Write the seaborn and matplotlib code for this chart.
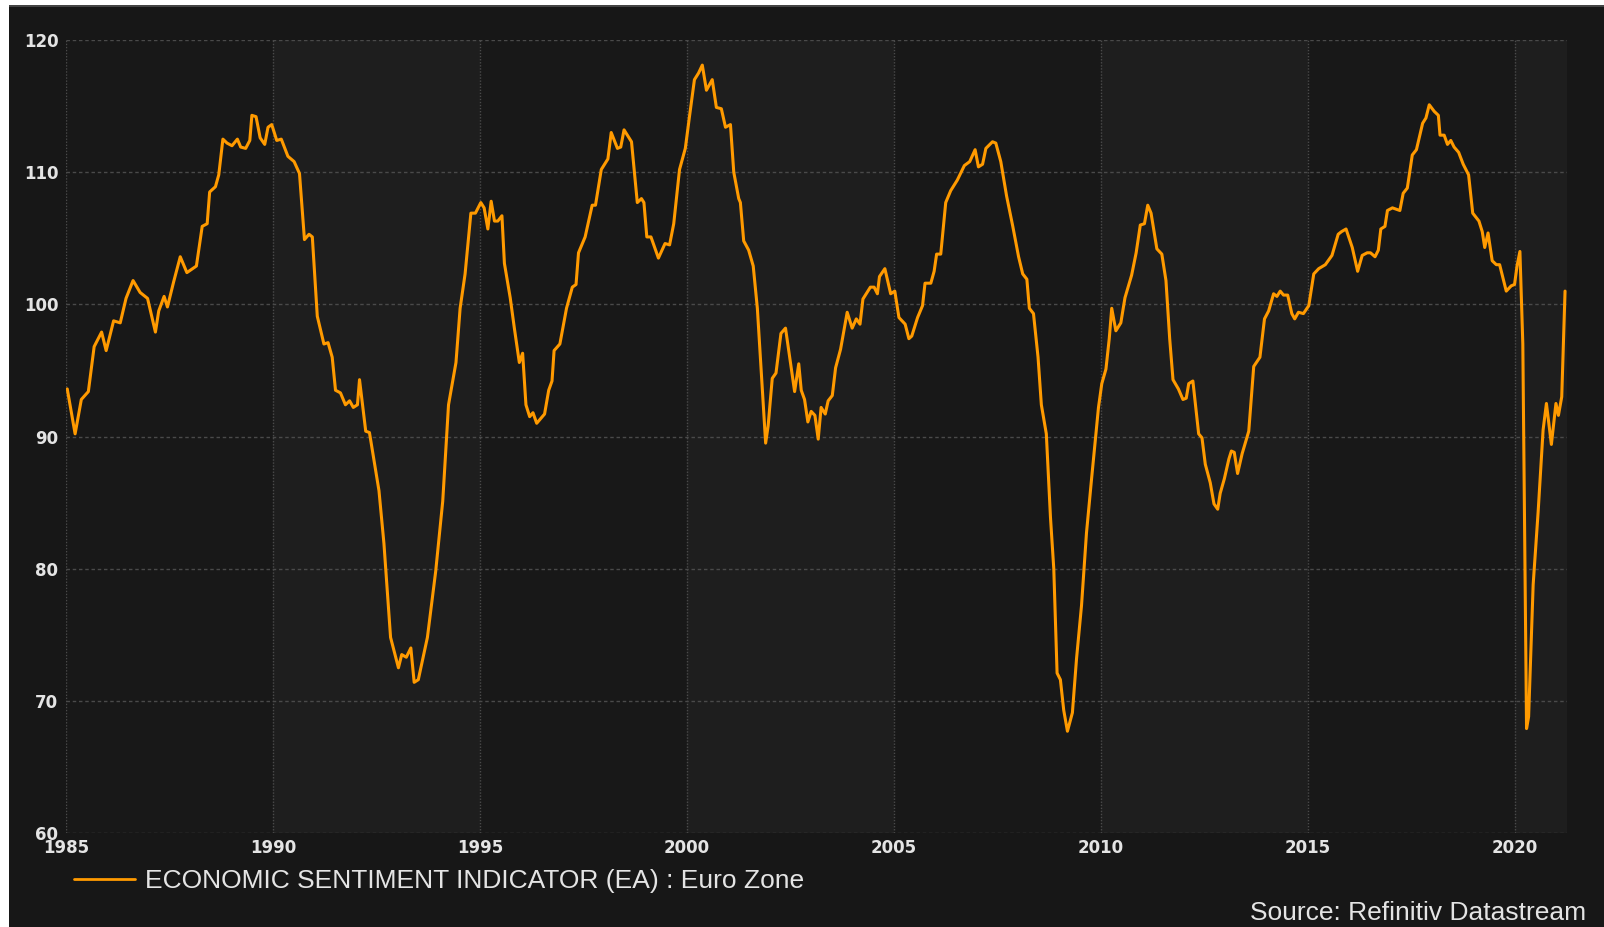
import matplotlib
matplotlib.use("Agg")
import matplotlib.pyplot as plt
from matplotlib.patches import Rectangle
import seaborn as sns
import pandas as pd

# values (decimal year, index level)
years = [
    1985.03, 1985.22, 1985.37, 1985.54, 1985.68, 1985.86, 1985.97, 1986.15, 1986.31, 1986.45,
    1986.62, 1986.79, 1986.97, 1987.16, 1987.24, 1987.37, 1987.45, 1987.60, 1987.76, 1987.92,
    1988.15, 1988.29, 1988.41, 1988.47, 1988.61, 1988.69, 1988.79, 1988.89, 1989.01, 1989.14,
    1989.22, 1989.34, 1989.44, 1989.49, 1989.59, 1989.69, 1989.80, 1989.88, 1989.97, 1990.09,
    1990.20, 1990.36, 1990.51, 1990.64, 1990.76, 1990.87, 1990.95, 1991.07, 1991.23, 1991.33,
    1991.43, 1991.51, 1991.63, 1991.75, 1991.85, 1991.94, 1992.04, 1992.09, 1992.24, 1992.33,
    1992.56, 1992.68, 1992.84, 1993.03, 1993.11, 1993.22, 1993.33, 1993.41, 1993.51, 1993.73,
    1993.93, 1994.10, 1994.24, 1994.42, 1994.52, 1994.64, 1994.78, 1994.89, 1995.02, 1995.10,
    1995.19, 1995.27, 1995.35, 1995.43, 1995.53, 1995.59, 1995.73, 1995.83, 1995.95, 1996.03,
    1996.11, 1996.20, 1996.28, 1996.37, 1996.56, 1996.66, 1996.74, 1996.79, 1996.93, 1997.09,
    1997.23, 1997.32, 1997.38, 1997.54, 1997.71, 1997.79, 1997.93, 1998.09, 1998.17, 1998.32,
    1998.40, 1998.48, 1998.66, 1998.80, 1998.90, 1998.96, 1999.03, 1999.13, 1999.31, 1999.47,
    1999.58, 1999.68, 1999.82, 1999.96, 2000.06, 2000.18, 2000.28, 2000.37, 2000.47, 2000.61,
    2000.71, 2000.83, 2000.93, 2001.05, 2001.13, 2001.25, 2001.29, 2001.37, 2001.49, 2001.60,
    2001.70, 2001.80, 2001.90, 2001.96, 2002.06, 2002.15, 2002.27, 2002.38, 2002.50, 2002.60,
    2002.70, 2002.76, 2002.84, 2002.92, 2003.00, 2003.09, 2003.17, 2003.24, 2003.34, 2003.41,
    2003.51, 2003.59, 2003.71, 2003.87, 2003.99, 2004.09, 2004.18, 2004.25, 2004.43, 2004.52,
    2004.60, 2004.65, 2004.78, 2004.92, 2005.02, 2005.12, 2005.27, 2005.36, 2005.43, 2005.57,
    2005.69, 2005.75, 2005.89, 2005.97, 2006.03, 2006.13, 2006.25, 2006.37, 2006.53, 2006.70,
    2006.83, 2006.96, 2007.04, 2007.14, 2007.22, 2007.38, 2007.46, 2007.58, 2007.72, 2007.87,
    2008.01, 2008.11, 2008.21, 2008.27, 2008.37, 2008.48, 2008.56, 2008.68, 2008.78, 2008.86,
    2008.94, 2009.02, 2009.10, 2009.19, 2009.31, 2009.41, 2009.53, 2009.65, 2009.77, 2009.94,
    2010.02, 2010.12, 2010.20, 2010.26, 2010.36, 2010.48, 2010.58, 2010.74, 2010.85, 2010.95,
    2011.05, 2011.13, 2011.21, 2011.35, 2011.47, 2011.57, 2011.66, 2011.74, 2011.87, 2011.98,
    2012.06, 2012.12, 2012.22, 2012.36, 2012.44, 2012.52, 2012.64, 2012.73, 2012.82, 2012.88,
    2012.98, 2013.09, 2013.15, 2013.22, 2013.30, 2013.41, 2013.57, 2013.69, 2013.84, 2013.95,
    2014.05, 2014.17, 2014.25, 2014.33, 2014.41, 2014.51, 2014.61, 2014.68, 2014.77, 2014.89,
    2015.02, 2015.14, 2015.26, 2015.42, 2015.58, 2015.73, 2015.81, 2015.92, 2016.07, 2016.20,
    2016.31, 2016.43, 2016.51, 2016.62, 2016.70, 2016.76, 2016.86, 2016.92, 2017.04, 2017.22,
    2017.30, 2017.40, 2017.52, 2017.62, 2017.77, 2017.85, 2017.93, 2018.05, 2018.15, 2018.19,
    2018.29, 2018.37, 2018.45, 2018.53, 2018.64, 2018.75, 2018.88, 2018.98, 2019.13, 2019.21,
    2019.27, 2019.35, 2019.45, 2019.55, 2019.63, 2019.79, 2019.91, 2019.99, 2020.05, 2020.12,
    2020.19, 2020.28, 2020.33, 2020.44, 2020.56, 2020.68, 2020.76, 2020.88, 2020.99, 2021.05,
    2021.13, 2021.21,
]
esi = [
    93.6, 90.2, 92.8, 93.4, 96.8, 97.9, 96.5, 98.75, 98.6, 100.45,
    101.8, 100.9, 100.45, 97.9, 99.5, 100.6, 99.8, 101.7, 103.6, 102.4,
    102.9, 105.9, 106.1, 108.5, 108.9, 109.8, 112.5, 112.2, 112.0, 112.5,
    111.9, 111.8, 112.4, 114.3, 114.2, 112.6, 112.1, 113.4, 113.6, 112.4,
    112.5, 111.2, 110.8, 109.9, 104.9, 105.3, 105.1, 99.1, 97.0, 97.1,
    96.0, 93.5, 93.3, 92.4, 92.7, 92.2, 92.4, 94.3, 90.4, 90.3,
    85.9, 81.9, 74.8, 72.5, 73.5, 73.3, 74.0, 71.4, 71.6, 74.8,
    79.8, 85.1, 92.4, 95.6, 99.7, 102.3, 106.9, 106.9, 107.7, 107.3,
    105.7, 107.8, 106.3, 106.3, 106.7, 103.1, 100.5, 98.2, 95.6, 96.3,
    92.4, 91.5, 91.8, 91.0, 91.7, 93.5, 94.2, 96.5, 97.0, 99.7,
    101.3, 101.5, 103.9, 105.1, 107.5, 107.5, 110.2, 111.0, 113.0, 111.8,
    111.9, 113.2, 112.3, 107.7, 108.0, 107.7, 105.1, 105.1, 103.5, 104.6,
    104.5, 106.1, 110.2, 111.8, 114.2, 117.0, 117.5, 118.1, 116.2, 117.0,
    114.9, 114.8, 113.4, 113.6, 110.0, 108.0, 107.7, 104.8, 104.1, 102.9,
    99.7, 94.6, 89.5, 90.8, 94.4, 94.8, 97.8, 98.2, 95.6, 93.4,
    95.5, 93.5, 92.8, 91.1, 91.9, 91.6, 89.8, 92.2, 91.7, 92.7,
    93.1, 95.2, 96.6, 99.4, 98.2, 98.9, 98.5, 100.4, 101.3, 101.3,
    100.8, 102.1, 102.7, 100.8, 101.0, 99.0, 98.5, 97.4, 97.6, 99.0,
    99.9, 101.6, 101.6, 102.5, 103.8, 103.8, 107.7, 108.6, 109.4, 110.5,
    110.8, 111.7, 110.4, 110.6, 111.8, 112.3, 112.2, 110.8, 108.2, 105.9,
    103.6, 102.3, 101.9, 99.7, 99.3, 96.0, 92.4, 90.2, 83.9, 80.0,
    72.1, 71.6, 69.3, 67.7, 69.1, 73.2, 77.2, 82.7, 86.7, 92.2,
    94.0, 95.1, 97.4, 99.7, 98.0, 98.6, 100.5, 102.2, 103.9, 106.0,
    106.1, 107.5, 106.9, 104.2, 103.8, 101.8, 97.4, 94.3, 93.6, 92.8,
    92.9, 94.0, 94.2, 90.2, 89.9, 87.9, 86.5, 84.9, 84.5, 85.7,
    86.8, 88.3, 88.9, 88.8, 87.2, 88.7, 90.4, 95.3, 96.0, 98.9,
    99.5, 100.8, 100.6, 101.0, 100.7, 100.7, 99.3, 98.9, 99.4, 99.3,
    99.9, 102.3, 102.7, 103.0, 103.7, 105.3, 105.5, 105.7, 104.3, 102.5,
    103.7, 103.9, 103.9, 103.6, 104.1, 105.7, 105.9, 107.1, 107.3, 107.1,
    108.4, 108.8, 111.3, 111.7, 113.7, 114.1, 115.1, 114.6, 114.3, 112.8,
    112.8, 112.1, 112.4, 111.9, 111.5, 110.6, 109.8, 106.9, 106.3, 105.5,
    104.3, 105.4, 103.3, 103.0, 103.0, 101.0, 101.4, 101.5, 102.9, 104.0,
    97.0, 67.9, 68.8, 78.8, 84.3, 90.5, 92.5, 89.4, 92.5, 91.6,
    93.0, 101.0,
]
series_name = "ECONOMIC SENTIMENT INDICATOR (EA) : Euro Zone"
source_note = "Source: Refinitiv Datastream"
x_ticks = [1985, 1990, 1995, 2000, 2005, 2010, 2015, 2020]
y_ticks = [60, 70, 80, 90, 100, 110, 120]

df = pd.DataFrame({"year": years, "esi": esi})

BG = "#171717"
DARK = "#181818"
LIGHT = "#1e1e1e"
GRID = "#4a4a4a"
ORANGE = "#ff9a00"
TXT = "#e4e4e4"

sns.set_theme(style="dark", rc={
    "figure.facecolor": "white",
    "axes.facecolor": DARK,
    "savefig.facecolor": "white",
})
plt.rcParams["font.family"] = ["DejaVu Sans"]

W, H = 1604, 927
fig = plt.figure(figsize=(W / 100, H / 100), dpi=100)

# dark page with thin white margin top / left like the screenshot
fig.add_artist(Rectangle((9 / W, 0), 1, 1 - 5 / H, transform=fig.transFigure,
                         facecolor=BG, edgecolor="none", zorder=-10))
fig.add_artist(Rectangle((9 / W, 1 - 7 / H), 1, 2 / H, transform=fig.transFigure,
                         facecolor="#444444", edgecolor="none", zorder=-9))

x0, x1 = 1985.0, 2021.25
ax = fig.add_axes([66 / W, 1 - 833 / H, (1566.7 - 66) / W, (833 - 40) / H])
ax.set_facecolor(DARK)

# alternating 5-year bands
for i, start in enumerate(range(1985, 2025, 5)):
    if i % 2 == 1:
        ax.axvspan(start, min(start + 5, x1), color=LIGHT, lw=0, zorder=0)

sns.lineplot(data=df, x="year", y="esi", ax=ax, color=ORANGE, linewidth=2.2,
             label=series_name, zorder=3)

ax.set_xlim(x0, x1)
ax.set_ylim(60, 120)
ax.set_xticks(x_ticks)
ax.set_yticks(y_ticks)
ax.set_xlabel("")
ax.set_ylabel("")
for s in ax.spines.values():
    s.set_visible(False)

ax.grid(False)
for yv in y_ticks:
    ax.axhline(yv, color=GRID, lw=1.0, ls=(0, (2.5, 2)), zorder=1)
for xv in x_ticks:
    ax.axvline(xv, color=GRID, lw=1.0, ls=(0, (1, 1.2)), zorder=1)

ax.tick_params(axis="both", length=0, colors=TXT, labelsize=12)
ax.tick_params(axis="x", pad=4.5)
ax.tick_params(axis="y", pad=5.5)
for lab in ax.get_xticklabels() + ax.get_yticklabels():
    lab.set_fontweight("bold")
    lab.set_color(TXT)

ax.get_legend().remove()
handles, labels = ax.get_legend_handles_labels()
leg = fig.legend(handles, labels, loc="center left",
                 bbox_to_anchor=(74 / W, 1 - 881 / H), frameon=False,
                 borderpad=0, borderaxespad=0, handlelength=2.3,
                 handletextpad=0.4,
                 prop={"family": "Liberation Sans", "size": 19})
for t in leg.get_texts():
    t.set_color(TXT)
for l in leg.get_lines():
    l.set_linewidth(2.0)

fig.text(1586 / W, 1 - 913 / H, source_note, ha="right", va="center",
         color=TXT, fontsize=19, family="Liberation Sans")

fig.savefig("out.png", dpi=100)
